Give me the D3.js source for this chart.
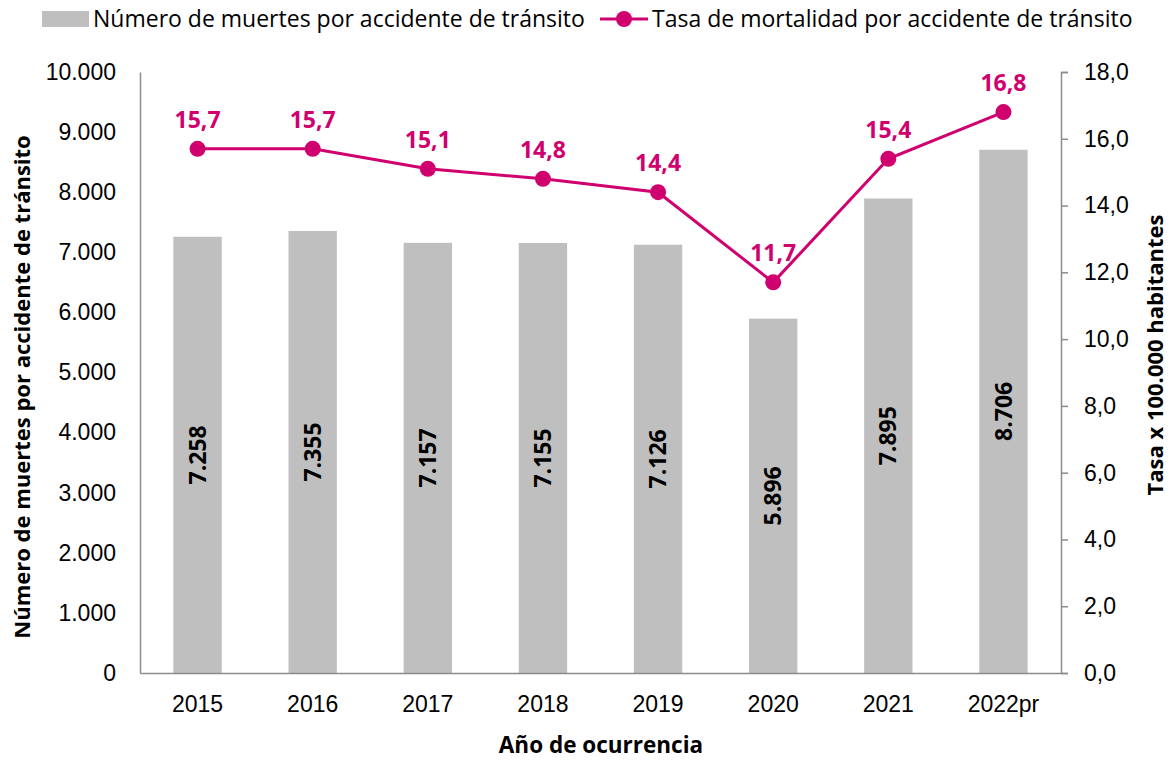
<!DOCTYPE html>
<html>
<head>
<meta charset="utf-8">
<script src="https://cdn.jsdelivr.net/npm/d3@7/dist/d3.min.js"></script>
<style>
  html, body { margin: 0; padding: 0; background: #fff; }
  svg { display: block; font-family: "Open Sans", "Noto Sans", sans-serif; }
</style>
</head>
<body>
<svg id="chart" width="1170" height="760"></svg>
<script>
// Road traffic deaths (bars) and mortality rate per 100,000 inhabitants (line)
const years = ["2015", "2016", "2017", "2018", "2019", "2020", "2021", "2022pr"];
const deaths = [7258, 7355, 7157, 7155, 7126, 5896, 7895, 8706];
const rates = [15.7, 15.7, 15.1, 14.8, 14.4, 11.7, 15.4, 16.8];
const leftTicks = [0, 1000, 2000, 3000, 4000, 5000, 6000, 7000, 8000, 9000, 10000];
const rightTicks = [0, 2, 4, 6, 8, 10, 12, 14, 16, 18];

const barColor = "#bfbfbf";
const lineColor = "#d0006f";
const axisColor = "#8c8c8c";

const svg = d3.select("#chart");
const margin = { left: 140, right: 1061, top: 72, bottom: 673 };

const fmtInt = d3.formatLocale({ decimal: ",", thousands: ".", grouping: [3] }).format(",d");
const fmtDec = d => d.toFixed(1).replace(".", ",");

const x = d3.scaleBand().domain(years).range([margin.left, margin.right]).paddingInner(0.58).paddingOuter(0.29);
const yL = d3.scaleLinear().domain([0, 10000]).range([margin.bottom, margin.top]);
const yR = d3.scaleLinear().domain([0, 18]).range([margin.bottom, margin.top]);

// Bars
svg.append("g").selectAll("rect").data(years).join("rect")
  .attr("x", d => x(d))
  .attr("width", x.bandwidth())
  .attr("y", (d, i) => yL(deaths[i]))
  .attr("height", (d, i) => yL(0) - yL(deaths[i]))
  .attr("fill", barColor);

// Bar value labels, rotated, in the middle of each bar
svg.append("g").selectAll("text").data(years).join("text")
  .attr("transform", (d, i) => `translate(${x(d) + x.bandwidth() / 2},${(yL(deaths[i]) + yL(0)) / 2}) rotate(-90)`)
  .attr("text-anchor", "middle")
  .attr("dy", "0.35em")
  .attr("font-size", 23)
  .attr("font-weight", "bold")
  .attr("fill", "#000")
  .text((d, i) => fmtInt(deaths[i]));

// Left axis
const gL = svg.append("g").attr("transform", `translate(${margin.left},0)`)
  .call(d3.axisLeft(yL).tickValues(leftTicks).tickSize(0).tickPadding(24).tickFormat(fmtInt));
gL.select(".domain").attr("stroke", axisColor).attr("stroke-width", 1.5);
gL.selectAll("text").attr("font-size", 23).attr("fill", "#000").attr("font-family", null);

// Right axis
const gR = svg.append("g").attr("transform", `translate(${margin.right},0)`)
  .call(d3.axisRight(yR).tickValues(rightTicks).tickSizeInner(7).tickSizeOuter(7).tickPadding(16).tickFormat(fmtDec));
gR.select(".domain").attr("stroke", axisColor).attr("stroke-width", 1.5);
gR.selectAll(".tick line").attr("stroke", axisColor).attr("stroke-width", 1.5);
gR.selectAll("text").attr("font-size", 23).attr("fill", "#000").attr("font-family", null);

// Bottom axis
const gB = svg.append("g").attr("transform", `translate(0,${margin.bottom})`)
  .call(d3.axisBottom(x).tickSize(0).tickPadding(23));
gB.select(".domain").attr("stroke", axisColor).attr("stroke-width", 1.5);
gB.selectAll("text").attr("font-size", 23).attr("fill", "#000").attr("font-family", null);

// Rate line with markers
const cx = d => x(d) + x.bandwidth() / 2;
svg.append("path")
  .datum(years)
  .attr("fill", "none")
  .attr("stroke", lineColor)
  .attr("stroke-width", 3)
  .attr("d", d3.line().x(cx).y((d, i) => yR(rates[i])));

svg.append("g").selectAll("circle").data(years).join("circle")
  .attr("cx", cx)
  .attr("cy", (d, i) => yR(rates[i]))
  .attr("r", 8)
  .attr("fill", lineColor);

svg.append("g").selectAll("text").data(years).join("text")
  .attr("x", cx)
  .attr("y", (d, i) => yR(rates[i]) - 21)
  .attr("text-anchor", "middle")
  .attr("font-size", 23)
  .attr("font-weight", "bold")
  .attr("fill", lineColor)
  .text((d, i) => fmtDec(rates[i]));

// Axis titles
svg.append("text")
  .attr("transform", `translate(30,387) rotate(-90)`)
  .attr("text-anchor", "middle")
  .attr("font-size", 22).attr("font-weight", "bold")
  .text("Número de muertes por accidente de tránsito");

svg.append("text")
  .attr("transform", `translate(1163,355) rotate(-90)`)
  .attr("text-anchor", "middle")
  .attr("font-size", 22).attr("font-weight", "bold")
  .text("Tasa x 100.000 habitantes");

svg.append("text")
  .attr("x", 601).attr("y", 753)
  .attr("text-anchor", "middle")
  .attr("font-size", 22.5).attr("font-weight", "bold")
  .text("Año de ocurrencia");

// Legend
const lg = svg.append("g");
lg.append("rect").attr("x", 42).attr("y", 11).attr("width", 47).attr("height", 16).attr("fill", barColor);
lg.append("text").attr("x", 93).attr("y", 27).attr("font-size", 23).text("Número de muertes por accidente de tránsito");
lg.append("line").attr("x1", 600).attr("x2", 648).attr("y1", 19).attr("y2", 19)
  .attr("stroke", lineColor).attr("stroke-width", 3);
lg.append("circle").attr("cx", 624).attr("cy", 19).attr("r", 8).attr("fill", lineColor);
lg.append("text").attr("x", 652).attr("y", 27).attr("font-size", 23).text("Tasa de mortalidad por accidente de tránsito");
</script>
</body>
</html>
